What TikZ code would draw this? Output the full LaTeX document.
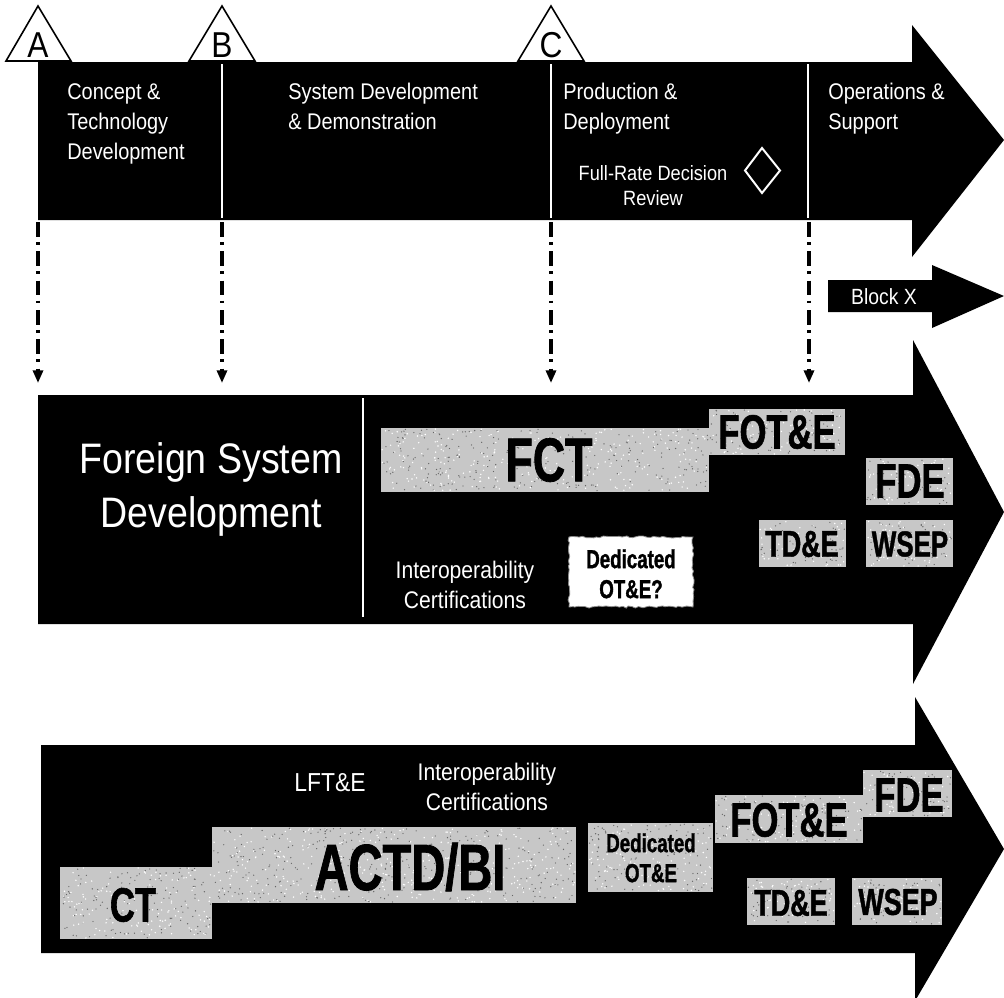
\documentclass[tikz,border=0pt]{standalone}
\usepackage{fontspec}
\setmainfont{Liberation Sans}[FakeStretch=0.88]
\newfontfamily\cbf{Liberation Sans Bold}[FakeStretch=0.72,FakeBold=1.2]
\usetikzlibrary{arrows.meta,decorations.pathmorphing}
\newcommand\mkspeckle[5]{%
  \fill[gtex] (#1,#2) rectangle (#3,#4);
  \foreach \k in {1,...,#5}{%
    \pgfmathsetmacro\spx{#1+1+rnd*(#3-#1-2)}%
    \pgfmathsetmacro\spy{#2+1+rnd*(#4-#2-2)}%
    \fill[black!60] (\spx,\spy) circle (0.5pt);
    \pgfmathsetmacro\spx{#1+1+rnd*(#3-#1-2)}%
    \pgfmathsetmacro\spy{#2+1+rnd*(#4-#2-2)}%
    \fill[white] (\spx,\spy) circle (0.6pt);
  }%
}
\begin{document}
\begin{tikzpicture}[x=0.75pt,y=-0.75pt,
  blk/.style={fill=black},
  sepline/.style={draw=white, line width=1.2pt},
  gtex/.style={fill=black!22},
  wlab/.style={text=white, inner sep=0pt, align=left, font=\fontsize{17pt}{22.5pt}\selectfont},
  ddarrow/.style={line width=2.3pt, dash pattern=on 11pt off 4pt on 2pt off 5pt, -{Triangle[width=7.5pt,length=9.5pt]}},
  ms/.style={draw=black, fill=white, line width=1.2pt},
  msl/.style={inner sep=0pt, font=\fontsize{27pt}{27pt}\selectfont},
  bl/.style={inner sep=0pt, text=black},
  dlab/.style={inner sep=0pt, text=black, align=center, font=\cbf\fontsize{19.5pt}{22.5pt}\selectfont},
  ilab/.style={inner sep=0pt, text=white, align=center, font=\fontsize{18pt}{22pt}\selectfont}
]
\pgfmathsetseed{4242}
\useasboundingbox (0,0) rectangle (1004,997);

% ---------- top phase arrow ----------
\fill[blk] (38,62) -- (912,62) -- (912,25) -- (1004,140) -- (912,257) -- (912,220) -- (38,220) -- cycle;
\draw[sepline] (222,64) -- (222,218);
\draw[sepline] (551,64) -- (551,218);
\draw[sepline] (808,64) -- (808,218);

% milestones
\draw[ms] (6,61) -- (38,6) -- (71,61) -- cycle;
\draw[ms] (189,61) -- (222,6) -- (255,61) -- cycle;
\draw[ms] (518,61) -- (551,6) -- (584,61) -- cycle;
\node[msl] (msA) at (38,45) {A};
\node[msl] (msB) at (222,45) {B};
\node[msl] (msC) at (551,45) {C};

\node[wlab, anchor=north west] (ctd) at (67,83) {Concept \&\\Technology\\Development};
\node[wlab, anchor=north west] (sdd) at (288,83) {System Development\\\& Demonstration};
\node[wlab, anchor=north west] (pd) at (563,83) {Production \&\\Deployment};
\node[wlab, anchor=north west] (os) at (828,83) {Operations \&\\Support};
\node[inner sep=0pt, text=white, align=center, anchor=north, font=\fontsize{15.5pt}{18.75pt}\selectfont] (frdr) at (653,165) {Full-Rate Decision\\Review};
\draw[white, line width=1.5pt] (762,148) -- (780,170.5) -- (762,193) -- (745,170.5) -- cycle;

% ---------- Block X ----------
\fill[blk] (828,280) -- (932,280) -- (932,265) -- (1004,296) -- (932,328) -- (932,312) -- (828,312) -- cycle;
\node[inner sep=0pt, text=white, font=\fontsize{16.5pt}{16.5pt}\selectfont] (blockx) at (884,297) {Block X};

% ---------- dash-dot connectors ----------
\coordinate (sA) at (38,222);  \coordinate (tA) at (38,383);
\coordinate (sB) at (222,222); \coordinate (tB) at (222,383);
\coordinate (sC) at (551,222); \coordinate (tC) at (551,383);
\coordinate (sD) at (809,222); \coordinate (tD) at (809,383);
\draw[ddarrow] (sA) -- (tA);
\draw[ddarrow] (sB) -- (tB);
\draw[ddarrow] (sC) -- (tC);
\draw[ddarrow] (sD) -- (tD);

% ---------- middle arrow ----------
\fill[blk] (38,395) -- (913,395) -- (913,340) -- (1004,512) -- (913,684) -- (913,624) -- (38,624) -- cycle;
\draw[draw=white, line width=0.8pt] (363,398) -- (363,617);
\node[inner sep=0pt, text=white, align=center, anchor=north, font=\fontsize{32pt}{40.5pt}\selectfont] (fsd) at (211,442) {Foreign System\\Development};

\mkspeckle{381}{428}{709}{492}{260}
\mkspeckle{709}{409}{845}{455}{80}
\mkspeckle{866}{458}{953}{505}{55}
\mkspeckle{759}{520}{846}{567}{55}
\mkspeckle{866}{520}{953}{567}{55}
\node[bl, font=\cbf\fontsize{46.5pt}{46.5pt}\selectfont] (fct) at (549,460) {FCT};
\node[bl, font=\cbf\fontsize{36pt}{36pt}\selectfont] (fote1) at (777,432) {FOT\&E};
\node[bl, font=\cbf\fontsize{36pt}{36pt}\selectfont] (fde1) at (910,481) {FDE};
\node[bl, font=\cbf\fontsize{28pt}{28pt}\selectfont] (tde1) at (802,544) {TD\&E};
\node[bl, font=\cbf\fontsize{27pt}{27pt}\selectfont] (wsep1) at (910,544) {WSEP};

\draw[decorate, decoration={random steps,segment length=2.5pt,amplitude=0.8pt}, fill=white, draw=black!45, line width=0.6pt] (569,537) rectangle (693,607);
\node[dlab, anchor=north] (dote1) at (631,549) {Dedicated\\OT\&E?};
\node[ilab, anchor=north] (ic1) at (465,561) {Interoperability\\Certifications};

% ---------- bottom arrow ----------
\fill[blk] (41,745) -- (915,745) -- (915,697) -- (1004,849) -- (915,1001) -- (915,953) -- (41,953) -- cycle;
\node[inner sep=0pt, text=white, anchor=north, font=\fontsize{19.5pt}{19.5pt}\selectfont] (lfte) at (330,773) {LFT\&E};
\node[ilab, anchor=north] (ic2) at (487,763) {Interoperability\\Certifications};

\mkspeckle{60}{867}{212}{939}{140}
\mkspeckle{212}{827}{576}{903}{330}
\mkspeckle{588}{823}{713}{892}{110}
\mkspeckle{715}{795}{863}{843}{90}
\mkspeckle{863}{770}{952}{817}{55}
\mkspeckle{747}{878}{835}{925}{55}
\mkspeckle{852}{878}{942}{925}{55}
\node[bl, font=\cbf\fontsize{36pt}{36pt}\selectfont] (ct) at (133,905) {CT};
\node[bl, font=\cbf\fontsize{49pt}{49pt}\selectfont] (actd) at (410,867) {ACTD/BI};
\node[dlab, anchor=north] (dote2) at (651,833) {Dedicated\\OT\&E};
\node[bl, font=\cbf\fontsize{36pt}{36pt}\selectfont] (fote2) at (789,820) {FOT\&E};
\node[bl, font=\cbf\fontsize{36pt}{36pt}\selectfont] (fde2) at (909,795) {FDE};
\node[bl, font=\cbf\fontsize{28pt}{28pt}\selectfont] (tde2) at (791,903) {TD\&E};
\node[bl, font=\cbf\fontsize{28pt}{28pt}\selectfont] (wsep2) at (898,902) {WSEP};
\end{tikzpicture}
\end{document}
